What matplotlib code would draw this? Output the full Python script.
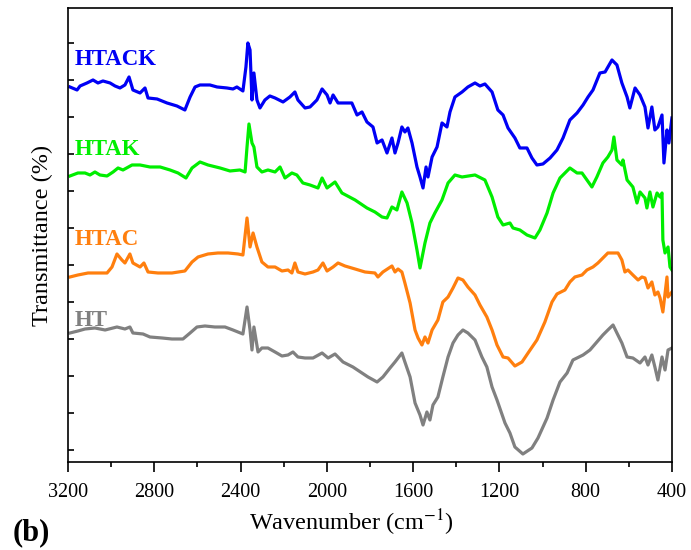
import numpy as np
import matplotlib
matplotlib.use("Agg")
import matplotlib.pyplot as plt
from matplotlib.ticker import MultipleLocator

plt.rcParams['font.family'] = ['Liberation Serif', 'DejaVu Serif']
plt.rcParams['mathtext.fontset'] = 'stix'

# FTIR spectra, wavenumber (cm-1) and transmittance (arbitrary offset units)
htack_wn = [3191, 3158, 3144, 3112, 3084, 3061, 3038, 3005, 2982, 2959, 2936, 2917, 2899, 2866,
            2843, 2829, 2787, 2741, 2695, 2658, 2634, 2611, 2588, 2542, 2509, 2463, 2435, 2417,
            2389, 2375, 2366, 2356, 2347, 2338, 2324, 2310, 2287, 2264, 2240, 2203, 2171, 2148,
            2134, 2101, 2078, 2046, 2022, 1999, 1985, 1971, 1948, 1930, 1884, 1860, 1837, 1814,
            1786, 1767, 1744, 1721, 1698, 1684, 1670, 1652, 1638, 1624, 1605, 1582, 1568, 1554,
            1540, 1531, 1512, 1489, 1466, 1443, 1429, 1406, 1373, 1346, 1313, 1290, 1267, 1234,
            1207, 1183, 1160, 1128, 1105, 1072, 1049, 1026, 998, 965, 933, 905, 873, 840, 812,
            789, 766, 734, 710, 678, 655, 632, 608, 595, 571, 548, 525, 511, 493, 479, 465, 446,
            437, 423, 414, 400]
htack_t = [375, 372, 376, 379, 382, 379, 381, 379, 376, 374, 377, 385, 372, 369,
           374, 364, 363, 359, 356, 352, 365, 375, 377, 377, 375, 374, 373, 375,
           371, 395, 419, 412, 362, 389, 362, 354, 362, 366, 364, 360, 365, 370,
           362, 354, 355, 362, 373, 367, 359, 367, 359, 359, 359, 347, 350, 340,
           335, 319, 322, 309, 324, 309, 319, 335, 330, 334, 319, 295, 285, 274,
           295, 285, 305, 315, 339, 335, 350, 365, 370, 375, 379, 376, 378, 370,
           352, 347, 334, 324, 314, 314, 304, 297, 298, 304, 312, 324, 342, 349, 357,
           365, 372, 389, 390, 402, 397, 379, 365, 354, 374, 367, 355, 334, 355, 332, 335, 347,
           299, 332, 319, 344]

htak_wn = [3191, 3154, 3121, 3098, 3075, 3052, 3019, 2991, 2968, 2945, 2903, 2866, 2820, 2773,
           2727, 2690, 2653, 2625, 2588, 2551, 2495, 2449, 2403, 2379, 2370, 2361, 2347, 2338,
           2324, 2301, 2273, 2240, 2217, 2194, 2162, 2139, 2111, 2078, 2041, 2022, 1999, 1962,
           1930, 1869, 1814, 1777, 1744, 1721, 1698, 1675, 1652, 1628, 1605, 1582, 1568, 1545,
           1522, 1499, 1466, 1438, 1406, 1373, 1313, 1267, 1234, 1207, 1183, 1151, 1137, 1105,
           1072, 1035, 1012, 979, 951, 919, 873, 840, 817, 794, 771, 748, 720, 697, 678, 669,
           655, 632, 627, 608, 581, 562, 548, 525, 516, 502, 488, 469, 455, 446, 442, 432,
           418, 409, 400]
htak_t = [286, 289, 289, 287, 290, 287, 286, 290, 294, 292, 297, 297, 295, 295,
          292, 289, 284, 294, 300, 297, 294, 291, 292, 290, 315, 338, 319, 315,
          295, 290, 292, 290, 295, 284, 289, 287, 279, 277, 274, 284, 274, 280,
          269, 262, 254, 250, 245, 244, 255, 252, 270, 259, 239, 212, 194, 219,
          239, 249, 262, 279, 287, 285, 287, 282, 265, 245, 237, 239, 234, 232,
          227, 224, 232, 249, 269, 284, 294, 289, 289, 282, 275, 285, 299, 305, 312, 325,
          302, 297, 302, 282, 275, 259, 270, 264, 254, 270, 255, 269, 265, 269, 222, 209,
          215, 195, 192]

htac_wn = [3191, 3154, 3107, 3061, 3019, 2996, 2973, 2950, 2936, 2913, 2899, 2866, 2848, 2829,
           2783, 2718, 2658, 2625, 2597, 2551, 2505, 2458, 2412, 2389, 2370, 2356, 2342, 2324,
           2301, 2273, 2240, 2208, 2180, 2162, 2148, 2134, 2101, 2064, 2041, 2018, 1999, 1971,
           1948, 1916, 1869, 1823, 1777, 1763, 1740, 1698, 1684, 1670, 1652, 1638, 1614, 1591,
           1577, 1559, 1545, 1531, 1512, 1485, 1462, 1438, 1415, 1392, 1369, 1346, 1313, 1290,
           1258, 1234, 1211, 1183, 1160, 1128, 1095, 1067, 1026, 989, 956, 933, 896, 873, 850,
           817, 794, 766, 743, 720, 697, 673, 650, 632, 618, 604, 581, 557, 539, 525, 511, 493,
           479, 465, 455, 442, 423, 418, 400]
htac_t = [185, 187, 189, 189, 189, 195, 208, 202, 199, 208, 199, 195, 199, 190,
          189, 189, 191, 200, 205, 208, 209, 209, 208, 207, 244, 215, 229, 215,
          200, 195, 195, 191, 192, 189, 199, 190, 188, 190, 192, 199, 191, 195,
          199, 196, 193, 190, 189, 185, 190, 196, 190, 193, 190, 179, 159, 132,
          124, 117, 125, 119, 132, 142, 160, 165, 174, 184, 182, 175, 167, 157,
          145, 132, 117, 105, 104, 96, 100, 109, 122, 140, 160, 168, 172, 180, 185,
          187, 192, 195, 199, 204, 209, 209, 209, 202, 190, 192, 187, 182, 185, 184, 174, 180,
          167, 170, 164, 150, 185, 165, 170]

ht_wn = [3191, 3154, 3121, 3075, 3028, 2973, 2936, 2913, 2899, 2852, 2820, 2764, 2718, 2667,
         2634, 2602, 2565, 2519, 2472, 2435, 2389, 2370, 2356, 2347, 2338, 2319, 2301, 2273,
         2240, 2208, 2180, 2157, 2134, 2101, 2064, 2022, 1994, 1962, 1925, 1879, 1837, 1809,
         1767, 1740, 1707, 1684, 1652, 1638, 1614, 1591, 1568, 1554, 1536, 1522, 1508, 1485,
         1462, 1438, 1415, 1392, 1369, 1346, 1313, 1281, 1258, 1234, 1211, 1174, 1151, 1128,
         1091, 1049, 1021, 979, 951, 919, 886, 859, 840, 812, 780, 748, 720, 697, 673, 655,
         632, 608, 581, 548, 525, 511, 493, 479, 465, 446, 432, 418, 400]
ht_t = [129, 131, 133, 134, 132, 135, 133, 135, 129, 128, 125, 124, 123, 123,
        129, 135, 136, 135, 135, 132, 128, 155, 132, 112, 135, 110, 114, 114,
        110, 106, 107, 110, 105, 104, 104, 109, 104, 108, 100, 95, 89, 85,
        80, 85, 94, 100, 109, 100, 85, 59, 47, 37, 50, 42, 57, 65,
        85, 105, 119, 127, 132, 129, 122, 105, 95, 75, 62, 39, 29, 15,
        8, 14, 24, 44, 62, 80, 89, 102, 104, 107, 112, 120, 127, 132, 137, 129,
        119, 105, 104, 99, 105, 97, 107, 95, 82, 105, 92, 112, 114]

names = ['HTACK', 'HTAK', 'HTAC', 'HT']
colors = ['#0000F5', '#00EE00', '#FF7F0E', '#808080']
label_y = [402, 312, 222, 141]

fig = plt.figure(figsize=(6.91, 5.5), dpi=100)
ax = fig.add_axes([0.0984, 0.16, 0.874, 0.8255])

series = [(htack_wn, htack_t), (htak_wn, htak_t), (htac_wn, htac_t), (ht_wn, ht_t)]
for (wn, t), c in zip(series, colors):
    ax.plot(wn, t, color=c, lw=2.3)

for name, c, y in zip(names, colors, label_y):
    ax.text(3170, y, name, color=c, fontsize=16.5, fontweight='bold', va='center', ha='left')

ax.set_xlim(3200, 400)
ax.set_ylim(0, 454)
ax.xaxis.set_major_locator(MultipleLocator(400))
ax.xaxis.set_minor_locator(MultipleLocator(200))
ax.set_yticks(np.arange(12, 454, 37))
ax.set_yticklabels([])
ax.tick_params(axis='x', which='major', direction='out', length=7, width=1.2,
               labelsize=14.5, pad=8)
ax.tick_params(axis='x', which='minor', direction='out', length=3.5, width=1.2)
ax.tick_params(axis='y', which='major', direction='in', length=4, width=1.2)
for s in ax.spines.values():
    s.set_linewidth(1.2)

ax.set_xlabel('Wavenumber (cm$^{-1}$)', fontsize=17.5, labelpad=1)
ax.xaxis.set_label_coords(0.47, -0.10)
ax.set_ylabel('Transmittance (%)', fontsize=17.5, labelpad=7)
fig.text(0.018, 0.017, '(b)', fontsize=22, fontweight='bold')

fig.savefig('out.png', dpi=100)
